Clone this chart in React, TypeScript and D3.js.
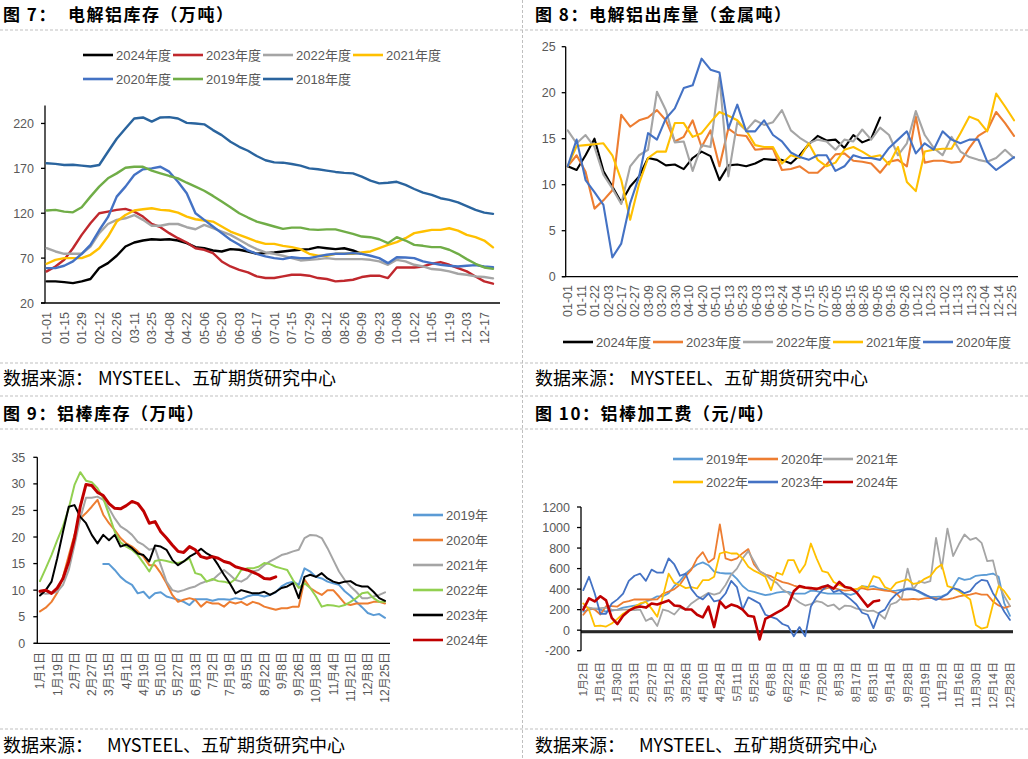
import React from 'react'
import * as d3 from 'd3'

const TICK_FONT = '"Liberation Sans", Arial, "Noto Sans CJK SC", sans-serif'
const CJK_FONT = '"Noto Sans CJK SC", "Noto Sans", sans-serif'
const GREY_TEXT = '#595959'

// ---------- 图7：电解铝库存（万吨），周度 ----------
const invLabels = ['01-01', '01-15', '01-29', '02-12', '02-26', '03-11', '03-25', '04-08', '04-22', '05-06', '05-20', '06-03', '06-17', '07-01', '07-15', '07-29', '08-12', '08-26', '09-09', '09-23', '10-08', '10-22', '11-05', '11-19', '12-03', '12-17']
const invTicks = [20, 70, 120, 170, 220]
const inv2024 = [44.1, 44.1, 43.3, 42.2, 44.1, 46.7, 58.9, 64.4, 72.6, 82.9, 87.4, 89.6, 91, 90.4, 91, 89.6, 86.7, 82.2, 81, 78.5, 77.4, 80, 79.3, 77.4, 74.8, 75.6, 76.3, 77.4, 78.5, 79.3, 80, 82.2, 81, 80, 81, 78.5, 74.8]
const inv2023 = [55.2, 60.7, 68.1, 81, 95.9, 108.9, 120, 121.8, 123.7, 124.8, 121.8, 116.3, 108, 104.4, 97.8, 92.2, 87.4, 81, 79.3, 75.6, 66.3, 60.7, 57, 54.1, 49.6, 47.8, 47.8, 49.6, 51.5, 51.5, 50.4, 47.8, 46.7, 44.1, 44.8, 45.9, 48.9, 50.4, 50.4, 47.8, 59.6, 59.6, 59.6, 60.7, 63.7, 65.6, 62.6, 58.9, 55.2, 49.6, 44.1, 41.5]
const inv2022 = [81, 77.4, 74.8, 74.8, 74.8, 82.9, 97.8, 108, 112.6, 114.4, 118, 112.6, 106, 106, 108, 108, 104.4, 102.2, 107, 103.3, 99.6, 95.9, 90.4, 84.8, 80, 76.3, 74.8, 72.6, 70, 67.4, 68.1, 68.9, 70, 68.9, 68.9, 68.9, 68.9, 68.1, 66.3, 62.6, 68.1, 66.3, 62.6, 60.7, 57.8, 57, 55.2, 52.6, 51.5, 49.6, 48.9, 47.5]
const inv2021 = [63.7, 68.1, 70, 70, 70, 73.7, 81, 94, 110.7, 118, 123, 124.4, 125.6, 123.7, 123, 120.7, 116.3, 113.3, 111.9, 110.7, 105.2, 99.6, 95.9, 92.2, 88.5, 85.9, 85.9, 83.7, 82.2, 80, 74.8, 72.6, 72.6, 74.8, 74.8, 74.8, 76.3, 77.4, 81, 84.8, 87.8, 92.2, 97.8, 99.6, 101.5, 101.5, 103.3, 100.7, 95.9, 93.3, 89.6, 82]
const inv2020 = [58.9, 58.9, 61.5, 66.3, 74.8, 84.8, 101, 115.6, 138.5, 149.6, 162.6, 168.9, 170, 171.8, 166.3, 155, 142.2, 120, 112.6, 105.2, 97.8, 90.4, 84.8, 78.5, 74.8, 71.9, 70, 68.9, 71, 70, 70, 71.9, 73.7, 74.8, 74.8, 75.6, 74.8, 72.6, 70, 64.4, 71, 70.7, 70, 66.3, 64.4, 62.6, 61.5, 60.7, 61.5, 62.2, 60.7, 60]
const inv2019 = [123, 123.7, 121.8, 121, 126.7, 138.5, 149.6, 158.9, 164.4, 170.7, 171.8, 171.8, 167.4, 164.4, 161.5, 158.9, 154, 149.6, 145, 139.3, 133, 126.7, 120, 115.2, 110.7, 108, 105.2, 102.6, 104, 104, 102, 101.5, 102, 102, 99.6, 97, 94, 93.3, 91, 86.7, 93.3, 89.6, 84.8, 83.7, 82.2, 82.2, 79.3, 74.8, 68.9, 63.7, 59.6, 58]
const inv2018 = [175.6, 175, 173.7, 174, 173, 172, 173.7, 188.5, 203, 214.4, 225.5, 226.7, 222, 226.7, 227, 225.5, 220.7, 220, 219, 212.6, 207, 199.6, 194, 189.6, 183.7, 179, 176.7, 176.3, 174.8, 173, 170, 169, 167.4, 166, 165, 164.4, 160.7, 156.3, 153.3, 154, 155, 151.5, 147, 143, 140.4, 136.7, 134.8, 132, 128, 123.7, 120.7, 119.3]

// ---------- 图8：电解铝出库量（万吨），周度 ----------
const outLabels = ['01-01', '01-11', '01-22', '02-03', '02-17', '02-27', '03-09', '03-20', '03-30', '04-10', '04-20', '05-01', '05-13', '05-23', '06-03', '06-13', '06-24', '07-04', '07-15', '07-25', '08-05', '08-15', '08-26', '09-05', '09-16', '09-26', '10-12', '10-23', '11-02', '11-13', '11-23', '12-04', '12-14', '12-25']
const outTicks = [0, 5, 10, 15, 20, 25]
const out2024 = [12.0, 11.6, 13.2, 15.0, 11.5, 9.8, 8.1, 9.8, 10.9, 12.9, 12.7, 12.1, 12.2, 11.7, 12.9, 13.6, 13.1, 10.5, 12.1, 12.2, 12.0, 12.3, 12.8, 12.7, 12.7, 12.3, 13.2, 14.4, 15.3, 14.8, 14.9, 14.0, 15.4, 14.6, 15.0, 17.3]
const out2023 = [12.0, 13.2, 11.4, 7.4, 8.3, 9.4, 17.6, 16.3, 17.0, 17.3, 18.1, 17.0, 14.7, 15.2, 17.0, 14.1, 15.9, 12.0, 16.1, 15.4, 15.3, 13.8, 13.9, 13.9, 11.6, 11.7, 12.0, 11.3, 11.3, 12.2, 13.3, 13.4, 12.6, 12.5, 12.3, 11.3, 12.5, 12.7, 12.0, 17.4, 12.4, 12.6, 12.6, 12.4, 12.5, 14.0, 15.3, 15.9, 17.9, 16.7, 15.3]
const out2022 = [15.9, 14.5, 15.4, 14.1, 11.1, 9.6, 7.9, 12.0, 13.2, 13.8, 20.1, 18.1, 14.6, 14.7, 11.5, 14.3, 14.1, 21.7, 10.9, 16.8, 15.9, 17.0, 16.5, 16.8, 18.1, 15.9, 15.1, 14.5, 14.9, 14.7, 13.8, 14.9, 14.7, 16.0, 14.9, 16.2, 15.4, 13.2, 14.5, 18.0, 15.4, 14.0, 13.2, 15.2, 13.6, 13.0, 12.7, 12.5, 12.9, 13.8, 12.9]
const out2021 = [12.0, 14.2, 14.3, 14.4, 14.5, 13.2, 10.5, 6.2, 10.1, 12.9, 13.6, 13.6, 16.7, 16.7, 15.2, 15.6, 16.8, 17.9, 17.5, 17.0, 15.9, 14.3, 14.1, 14.1, 12.3, 13.2, 12.9, 14.5, 12.7, 12.0, 12.4, 13.8, 14.1, 13.6, 13.0, 13.2, 12.2, 14.1, 10.3, 9.3, 13.6, 13.8, 13.9, 13.9, 15.6, 17.4, 17.0, 15.8, 19.9, 18.5, 17.0]
const out2020 = [12.0, 14.9, 10.5, 9.2, 7.8, 2.1, 3.6, 8.0, 10.9, 15.6, 14.9, 17.2, 18.3, 20.5, 20.8, 23.7, 22.5, 22.2, 16.1, 18.7, 15.8, 15.8, 17.0, 15.4, 14.7, 13.5, 13.0, 12.7, 13.2, 13.2, 11.5, 12.0, 13.2, 12.9, 12.9, 12.7, 14.0, 14.9, 15.8, 13.4, 14.5, 13.8, 15.8, 14.9, 14.5, 14.9, 14.9, 12.5, 11.6, 12.3, 13.0]

// ---------- 图9：铝棒库存（万吨） ----------
const barLabels = ['1月1日', '1月19日', '2月7日', '2月27日', '3月15日', '4月1日', '4月19日', '5月10日', '5月27日', '6月13日', '7月2日', '7月19日', '8月5日', '8月22日', '9月8日', '9月26日', '10月18日', '11月4日', '11月21日', '12月8日', '12月25日']
const barTicks = [0, 5, 10, 15, 20, 25, 30, 35]
const bar2019 = [null, null, null, null, null, null, null, null, null, null, null, 14.9, 14.9, 13.8, 12.5, 11.6, 11.0, 9.4, 9.7, 8.5, 9.4, 9.6, 8.8, 8.5, 8.2, 7.8, 7.2, 8.3, 8.3, 8.3, 8.0, 8.3, 8.3, 8.2, 8.5, 8.3, 8.8, 9.1, 9.1, 8.8, 9.1, 9.6, 10.7, 11.3, 11.6, 11.0, 14.1, 13.5, 12.5, 12.2, 11.6, 11.3, 11.0, 9.8, 8.9, 7.8, 6.8, 5.7, 5.3, 5.5, 4.8]
const bar2020 = [6.0, 6.7, 7.8, 9.5, 12.5, 16.5, 20.4, 23.5, 24.5, 25.7, 27.0, 24.2, 22.6, 21.3, 19.8, 18.8, 18.2, 17.3, 16.3, 14.7, 14.7, 13.2, 11.3, 9.1, 7.8, 8.2, 8.5, 8.2, 6.9, 7.8, 7.5, 7.5, 6.9, 7.8, 7.5, 7.8, 7.2, 7.8, 7.5, 6.9, 6.6, 6.3, 6.6, 6.6, 6.9, 6.9, 12.0, 10.4, 9.7, 9.1, 10.0, 10.0, 8.8, 7.5, 7.2, 7.5, 7.5, 7.5, 7.8, 7.8, 7.5]
const bar2021 = [9.5, 9.3, 9.4, 9.7, 11.0, 13.8, 18.5, 23.5, 27.4, 27.4, 27.6, 27.0, 25.4, 23.5, 22.0, 21.3, 20.4, 19.1, 18.5, 17.6, 17.9, 14.7, 11.6, 10.0, 9.7, 10.0, 10.4, 10.7, 11.3, 11.7, 11.9, 12.9, 13.8, 12.9, 11.9, 11.6, 12.2, 13.5, 13.8, 14.7, 15.4, 16.0, 16.6, 16.9, 17.3, 17.6, 19.8, 20.4, 20.3, 19.8, 17.9, 15.7, 13.5, 11.9, 10.7, 9.7, 8.5, 8.5, 8.8, 9.1, 9.6]
const bar2022 = [11.7, 14.1, 16.6, 19.4, 22.0, 25.4, 29.8, 32.2, 30.6, 30.3, 29.2, 27.3, 24.2, 21.0, 19.0, 18.2, 17.6, 16.6, 15.1, 13.5, 15.5, 15.7, 15.5, 15.2, 15.1, 15.4, 16.0, 13.2, 12.9, 11.6, 12.1, 11.7, 11.6, 11.3, 12.1, 13.8, 14.1, 14.1, 14.4, 15.1, 14.9, 14.4, 14.1, 13.8, 11.9, 10.4, 11.3, 10.4, 8.8, 6.9, 7.2, 7.1, 6.9, 7.2, 7.8, 8.5, 9.4, 9.6, 8.5, 7.8, 7.8]
const bar2023 = [9.0, 10.0, 11.6, 16.0, 21.0, 25.7, 26.0, 23.8, 22.6, 20.4, 18.8, 20.4, 19.4, 20.4, 18.2, 18.6, 17.9, 16.9, 16.6, 15.4, 18.4, 18.2, 17.6, 15.7, 14.7, 15.4, 16.3, 16.9, 17.8, 16.9, 16.3, 14.7, 12.9, 11.3, 9.4, 10.0, 9.7, 9.4, 9.4, 9.7, 9.1, 9.7, 10.4, 10.7, 11.3, 8.5, 12.5, 12.9, 12.5, 13.2, 12.2, 11.6, 11.3, 11.6, 11.7, 11.0, 10.7, 10.7, 9.7, 8.5, 8.0]
const bar2024 = [9.8, 10.0, 9.4, 10.4, 12.2, 15.4, 19.8, 25.7, 29.9, 29.7, 28.4, 27.8, 26.3, 25.4, 25.3, 25.9, 26.7, 26.3, 24.9, 22.6, 22.9, 21.0, 19.8, 18.5, 17.3, 17.1, 18.2, 17.6, 16.3, 16.0, 16.3, 16.0, 15.4, 15.1, 14.4, 14.1, 13.8, 13.4, 12.9, 12.2, 12.1, 12.5]

// ---------- 图10：铝棒加工费（元/吨） ----------
const feeLabels = ['1月2日', '1月16日', '1月30日', '2月13日', '2月27日', '3月12日', '3月26日', '4月10日', '4月24日', '5月11日', '5月25日', '6月8日', '6月22日', '7月6日', '7月20日', '8月3日', '8月17日', '8月31日', '9月14日', '9月28日', '10月19日', '11月2日', '11月16日', '11月30日', '12月14日', '12月28日']
const feeTicks = [-200, 0, 200, 400, 600, 800, 1000, 1200]
const feeBaseBand = [0, -30]
const fee2019 = [180, 200, 210, 200, 180, 190, 200, 220, 230, 240, 250, 280, 300, 330, 330, 360, 430, 480, 552, 600, 640, 660, 633, 570, 558, 552, 552, 500, 430, 385, 373, 357, 341, 350, 365, 373, 373, 357, 357, 357, 385, 380, 365, 357, 357, 357, 357, 345, 360, 430, 422, 429, 406, 395, 380, 385, 395, 406, 406, 370, 340, 325, 325, 330, 355, 420, 510, 490, 500, 530, 536, 540, 552, 520, 260, 140]
const fee2020 = [150, 218, 201, 153, 234, 234, 230, 270, 283, 299, 299, 299, 299, 300, 355, 375, 400, 445, 526, 590, 700, 760, 660, 700, 1030, 700, 680, 700, 750, 790, 640, 575, 542, 526, 494, 468, 455, 435, 420, 410, 405, 410, 396, 412, 412, 395, 385, 390, 400, 410, 396, 403, 396, 385, 380, 360, 299, 299, 305, 299, 310, 315, 310, 299, 300, 312, 330, 340, 347, 362, 347, 347, 280, 240, 218, 235]
const fee2021 = [230, 220, 210, 215, 220, 200, 195, 200, 200, 195, 200, 90, 120, 40, 201, 185, 153, 218, 201, 260, 299, 331, 364, 347, 364, 440, 542, 600, 700, 770, 672, 575, 542, 494, 461, 396, 364, 310, 270, 240, 255, 283, 270, 234, 250, 201, 240, 234, 210, 200, 185, 190, 160, 110, 250, 270, 320, 600, 396, 477, 461, 477, 900, 600, 990, 721, 834, 932, 880, 900, 851, 672, 680, 450, 330, 234]
const fee2022 = [260, 200, 40, 45, 35, 65, 110, 160, 195, 227, 260, 276, 210, 130, 330, 550, 460, 440, 410, 420, 406, 487, 487, 520, 747, 763, 747, 747, 700, 617, 580, 552, 520, 390, 560, 540, 682, 682, 560, 640, 844, 700, 575, 560, 470, 440, 420, 405, 396, 429, 410, 526, 510, 420, 396, 461, 477, 494, 450, 460, 500, 526, 600, 640, 430, 412, 380, 340, 299, 50, 15, 30, 250, 430, 380, 300]
const fee2023 = [390, 520, 360, 160, 160, 260, 300, 357, 480, 530, 550, 480, 590, 560, 560, 700, 640, 530, 550, 400, 330, 300, 357, 280, 292, 357, 480, 420, 200, 320, 290, 260, 150, 130, 110, 60, 40, -60, 30, -60, 230, 325, 390, 440, 370, 390, 345, 300, 250, 170, 150, 20, 170, 200, 292, 350, 385, 400, 395, 380, 350, 320, 295, 320, 350, 410, 395, 360, 380, 450, 490, 480, 360, 280, 180, 100]
const fee2024 = [200, 310, 280, 330, 290, 120, 60, 140, 190, 218, 230, 220, 260, 250, 270, 290, 240, 234, 201, 201, 150, 125, 230, 30, 280, 218, 250, 234, 201, 140, 130, -90, 110, 140, 170, 201, 240, 380, 430, 415, 410, 400, 420, 435, 405, 470, 420, 410, 370, 299, 230, 280, 290]

type Series = { name: string; color: string; width: number; values: (number | null)[] }

const invSeries: Series[] = [
  { name: '2024年度', color: '#000000', width: 2.4, values: inv2024 },
  { name: '2023年度', color: '#C0282D', width: 2.4, values: inv2023 },
  { name: '2022年度', color: '#A5A5A5', width: 2.4, values: inv2022 },
  { name: '2021年度', color: '#FFC000', width: 2.4, values: inv2021 },
  { name: '2020年度', color: '#4472C4', width: 2.4, values: inv2020 },
  { name: '2019年度', color: '#70AD47', width: 2.4, values: inv2019 },
  { name: '2018年度', color: '#2A649E', width: 2.4, values: inv2018 },
]
const outSeries: Series[] = [
  { name: '2024年度', color: '#000000', width: 2.1, values: out2024 },
  { name: '2023年度', color: '#ED7D31', width: 2.1, values: out2023 },
  { name: '2022年度', color: '#A5A5A5', width: 2.1, values: out2022 },
  { name: '2021年度', color: '#FFC000', width: 2.1, values: out2021 },
  { name: '2020年度', color: '#4472C4', width: 2.1, values: out2020 },
]
const barSeries: Series[] = [
  { name: '2019年', color: '#5B9BD5', width: 2, values: bar2019 },
  { name: '2020年', color: '#ED7D31', width: 2, values: bar2020 },
  { name: '2021年', color: '#A5A5A5', width: 2, values: bar2021 },
  { name: '2022年', color: '#92D050', width: 2, values: bar2022 },
  { name: '2023年', color: '#000000', width: 2, values: bar2023 },
  { name: '2024年', color: '#C00000', width: 3, values: bar2024 },
]
const feeSeries: Series[] = [
  { name: '2019年', color: '#5B9BD5', width: 1.8, values: fee2019 },
  { name: '2020年', color: '#ED7D31', width: 1.8, values: fee2020 },
  { name: '2021年', color: '#A5A5A5', width: 1.8, values: fee2021 },
  { name: '2022年', color: '#FFC000', width: 1.8, values: fee2022 },
  { name: '2023年', color: '#4472C4', width: 1.8, values: fee2023 },
  { name: '2024年', color: '#C00000', width: 2.6, values: fee2024 },
]

type Lin = d3.ScaleLinear<number, number>

function Lines({ series, x, y }: { series: Series[]; x: Lin; y: Lin }) {
  const line = d3.line<number | null>()
    .defined(d => d !== null)
    .x((_, i) => x(i))
    .y(d => y(d as number))
  return (
    <g fill="none" strokeLinejoin="round" strokeLinecap="round">
      {series.map(s => (
        <path key={s.name} d={line(s.values) || ''} stroke={s.color} strokeWidth={s.width} />
      ))}
    </g>
  )
}

function YAxis({ y, ticks, x0, gap }: { y: Lin; ticks: number[]; x0: number; gap: number }) {
  const [y0, y1] = y.range()
  return (
    <g>
      <line x1={x0} x2={x0} y1={y0} y2={y1} stroke="#000" strokeWidth={1.3} />
      {ticks.map(t => (
        <g key={t}>
          <line x1={x0 - 4} x2={x0} y1={y(t)} y2={y(t)} stroke="#000" strokeWidth={1.3} />
          <text x={x0 - gap} y={y(t)} dy="0.36em" textAnchor="end" fontSize={12.5}
            fill={GREY_TEXT} fontFamily={TICK_FONT}>{t}</text>
        </g>
      ))}
    </g>
  )
}

function XLabels({ labels, range, top, size }: { labels: string[]; range: [number, number]; top: number; size: number }) {
  const xp = d3.scalePoint<string>().domain(labels).range(range)
  return (
    <g>
      {labels.map(l => (
        <text key={l} transform={`translate(${xp(l)},${top}) rotate(-90)`} dy="0.36em"
          textAnchor="end" fontSize={size} fill={GREY_TEXT} fontFamily={TICK_FONT}>{l}</text>
      ))}
    </g>
  )
}

function LegendItem({ s, x, y, size }: { s: Series; x: number; y: number; size: number }) {
  return (
    <g>
      <line x1={x} x2={x + 30} y1={y} y2={y} stroke={s.color} strokeWidth={2.6} />
      <text x={x + 33} y={y} dy="0.36em" fontSize={size} fill={GREY_TEXT} fontFamily={TICK_FONT}>{s.name}</text>
    </g>
  )
}

function Title({ x, y, head, body, bodyX }: { x: number; y: number; head: string; body: string; bodyX?: number }) {
  return (
    <text x={x} y={y} fontSize={17} letterSpacing={1.5} fontWeight={700} fontFamily={CJK_FONT} fill="#000">
      <tspan>{head}</tspan>
      <tspan x={bodyX}>{body}</tspan>
    </text>
  )
}

function Source({ x, y, gap }: { x: number; y: number; gap: number }) {
  return (
    <text x={x} y={y} fontSize={18} fontFamily={CJK_FONT} fill="#000">
      <tspan>数据来源：</tspan>
      <tspan x={x + gap}>MYSTEEL、五矿期货研究中心</tspan>
    </text>
  )
}

export default function App() {
  // 图7
  const x7 = d3.scaleLinear().domain([0, inv2018.length - 1]).range([46.7, 493])
  const y7 = d3.scaleLinear().domain([20, 240]).range([303, 105.5])
  // 图8
  const x8 = d3.scaleLinear().domain([0, out2023.length - 1]).range([567.7, 1014])
  const y8 = d3.scaleLinear().domain([0, 25]).range([276.7, 46.7])
  // 图9
  const x9 = d3.scaleLinear().domain([0, bar2021.length - 1]).range([40, 385])
  const y9 = d3.scaleLinear().domain([0, 35]).range([643.3, 457.3])
  // 图10
  const x10 = d3.scaleLinear().domain([0, fee2019.length - 1]).range([583.3, 1010])
  const y10 = d3.scaleLinear().domain([-200, 1200]).range([650.7, 507])

  const dash = { stroke: '#BFBFBF', strokeDasharray: '3,2', strokeWidth: 1 }

  return (
    <svg width={1028} height={759} viewBox="0 0 1028 759"
      style={{ position: 'absolute', left: 0, top: 0, background: '#fff', display: 'block' }}>
      <rect width={1028} height={759} fill="#fff" />

      {/* separators */}
      {[30, 363, 396, 429, 729].map(yy => (
        <line key={yy} x1={0} x2={1028} y1={yy} y2={yy} {...dash} />
      ))}
      <line x1={522.5} x2={522.5} y1={0} y2={759} {...dash} />

      {/* titles & sources */}
      <Title x={3} y={20.5} head="图 7：" body="电解铝库存（万吨）" bodyX={68} />
      <Title x={535} y={20.5} head="图 8：" body="电解铝出库量（金属吨）" />
      <Title x={3} y={420} head="图 9：" body="铝棒库存（万吨）" />
      <Title x={535} y={420} head="图 10：" body="铝棒加工费（元/吨）" />
      <Source x={3} y={385} gap={95} />
      <Source x={535} y={385} gap={95} />
      <Source x={3} y={752} gap={104} />
      <Source x={535} y={752} gap={104} />

      {/* 图7 */}
      <g>
        {invSeries.map((s, i) => (
          <LegendItem key={s.name} s={s} x={83 + (i % 4) * 90} y={55 + Math.floor(i / 4) * 24} size={13} />
        ))}
        <line x1={41} x2={500} y1={y7(20)} y2={y7(20)} stroke="#000" strokeWidth={1.3} />
        <YAxis y={y7} ticks={invTicks} x0={45} gap={11} />
        <XLabels labels={invLabels} range={[x7(0), x7(50)]} top={312} size={12.5} />
        <Lines series={invSeries} x={x7} y={y7} />
      </g>

      {/* 图8 */}
      <g>
        {outSeries.map((s, i) => (
          <LegendItem key={s.name} s={s} x={563 + i * 90} y={342} size={13} />
        ))}
        <line x1={562} x2={1018} y1={y8(0)} y2={y8(0)} stroke="#000" strokeWidth={1.3} />
        <YAxis y={y8} ticks={outTicks} x0={565.7} gap={10} />
        <XLabels labels={outLabels} range={[567.7, 1011.7]} top={285} size={12.5} />
        <Lines series={outSeries} x={x8} y={y8} />
      </g>

      {/* 图9 */}
      <g>
        {barSeries.map((s, i) => (
          <LegendItem key={s.name} s={s} x={413} y={515 + i * 25} size={13} />
        ))}
        <line x1={34} x2={390} y1={y9(0)} y2={y9(0)} stroke="#000" strokeWidth={1.3} />
        <YAxis y={y9} ticks={barTicks} x0={37.3} gap={12} />
        <XLabels labels={barLabels} range={[40, 385]} top={652} size={12} />
        <Lines series={barSeries} x={x9} y={y9} />
      </g>

      {/* 图10 */}
      <g>
        {feeSeries.map((s, i) => (
          <LegendItem key={s.name} s={s} x={673 + (i % 3) * 75} y={459 + Math.floor(i / 3) * 23} size={13} />
        ))}
        <rect x={581} width={1013 - 581} y={y10(feeBaseBand[0])}
          height={y10(feeBaseBand[1]) - y10(feeBaseBand[0])} fill="#262626" />
        <YAxis y={y10} ticks={feeTicks} x0={581} gap={11} />
        <XLabels labels={feeLabels} range={[583.3, 1010]} top={662} size={11} />
        <Lines series={feeSeries} x={x10} y={y10} />
      </g>
    </svg>
  )
}
